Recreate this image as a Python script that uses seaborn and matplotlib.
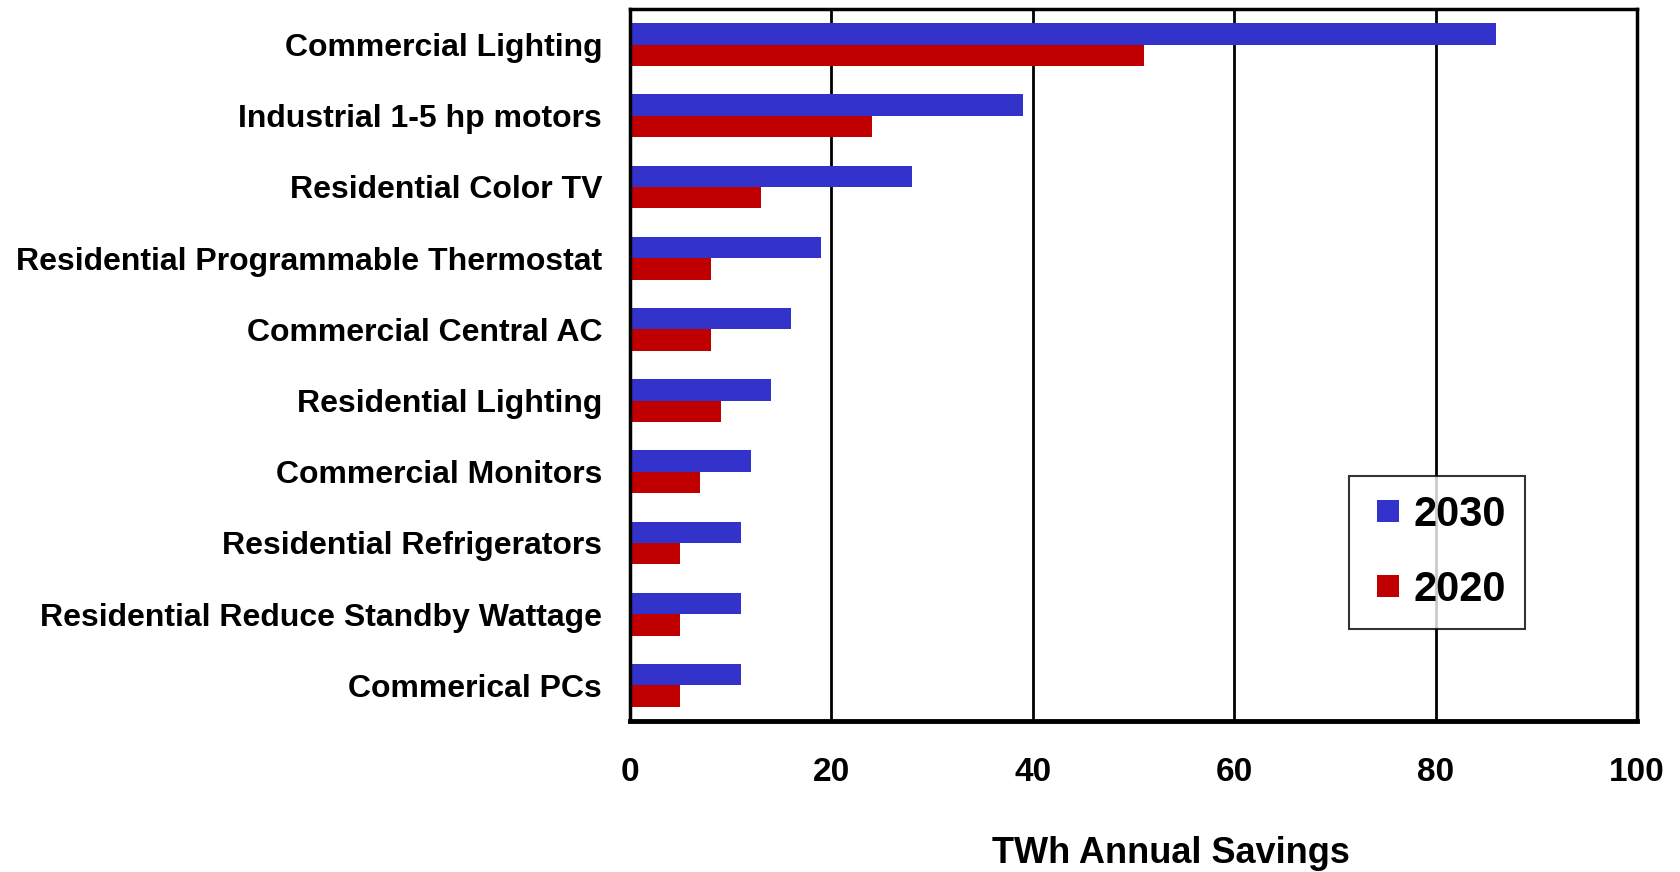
"""
Horizontal bar chart: TWh annual savings by measure, 2030 vs 2020.
"""

import numpy as np
import pandas as pd
import matplotlib
matplotlib.use('Agg')
import matplotlib.pyplot as plt
from matplotlib.lines import Line2D
import seaborn as sns


# Data
categories = [
    'Commercial Lighting',
    'Industrial 1-5 hp motors',
    'Residential Color TV',
    'Residential Programmable Thermostat',
    'Commercial Central AC',
    'Residential Lighting',
    'Commercial Monitors',
    'Residential Refrigerators',
    'Residential Reduce Standby Wattage',
    'Commerical PCs',
]
savings_2030 = [86, 39, 28, 19, 16, 14, 12, 11, 11, 11]
savings_2020 = [51, 24, 13, 8, 8, 9, 7, 5, 5, 5]
years = ['2030', '2020']
x_ticks = [0, 20, 40, 60, 80, 100]

colors = {'2030': '#3333CC', '2020': '#C00000'}

sns.set_style('white')
plt.rcParams['font.family'] = ['Liberation Sans', 'DejaVu Sans']
plt.rcParams['font.weight'] = 'bold'
plt.rcParams['text.color'] = 'black'
plt.rcParams['xtick.color'] = 'black'
plt.rcParams['ytick.color'] = 'black'
plt.rcParams['axes.labelcolor'] = 'black'

df = pd.DataFrame({
    'category': categories * 2,
    'savings': savings_2030 + savings_2020,
    'year': ['2030'] * len(categories) + ['2020'] * len(categories),
})

fig = plt.figure(figsize=(16.8, 8.72), dpi=100)
ax = fig.add_axes([0.375, 0.1732, 0.5994, 0.8165])

sns.barplot(data=df, y='category', x='savings', hue='year', hue_order=years,
            order=categories, palette=colors, orient='h', width=0.6,
            saturation=1, linewidth=0, ax=ax, legend=False)

ax.set_xlim(0, 100)
ax.set_ylim(len(categories) - 0.5, -0.5)
ax.set_xticks(x_ticks)
ax.set_xticklabels([str(t) for t in x_ticks], fontsize=24, fontweight='bold')
ax.set_yticks(range(len(categories)))
ax.set_yticklabels(categories, fontsize=23, fontweight='bold')
ax.set_yticks(np.arange(-0.5, len(categories), 1), minor=True)

ax.tick_params(axis='y', which='major', length=0, pad=20)
ax.tick_params(axis='y', which='minor', length=7, width=2.5, color='black', direction='out')
ax.tick_params(axis='x', which='major', length=7, width=2.5, color='black',
               direction='out', pad=19)

ax.set_axisbelow(True)
ax.grid(axis='x', color='black', linewidth=2)
ax.grid(axis='y', visible=False)

for side in ['left', 'right', 'top']:
    ax.spines[side].set_color('black')
    ax.spines[side].set_linewidth(2.5)
ax.spines['bottom'].set_color('black')
ax.spines['bottom'].set_linewidth(3.5)

ax.set_ylabel('')
ax.set_xlabel('TWh Annual Savings', fontsize=26, fontweight='bold')
ax.xaxis.set_label_coords(0.537, -0.161)

# square markers, centred in the handle box
handles = [Line2D([], [], marker='s', linestyle='', markersize=15.5,
                  markerfacecolor=colors[y], markeredgewidth=0) for y in years]
leg = ax.legend(handles, years, loc='center', bbox_to_anchor=(0.801, 0.237),
                fontsize=30, frameon=True, fancybox=False, handlelength=1.0,
                handletextpad=0.1, labelspacing=0.85, borderpad=0.45,
                borderaxespad=0)
leg.get_frame().set_edgecolor('black')
leg.get_frame().set_linewidth(1.5)
for t in leg.get_texts():
    t.set_fontweight('bold')

fig.savefig('out.png', dpi=100)
